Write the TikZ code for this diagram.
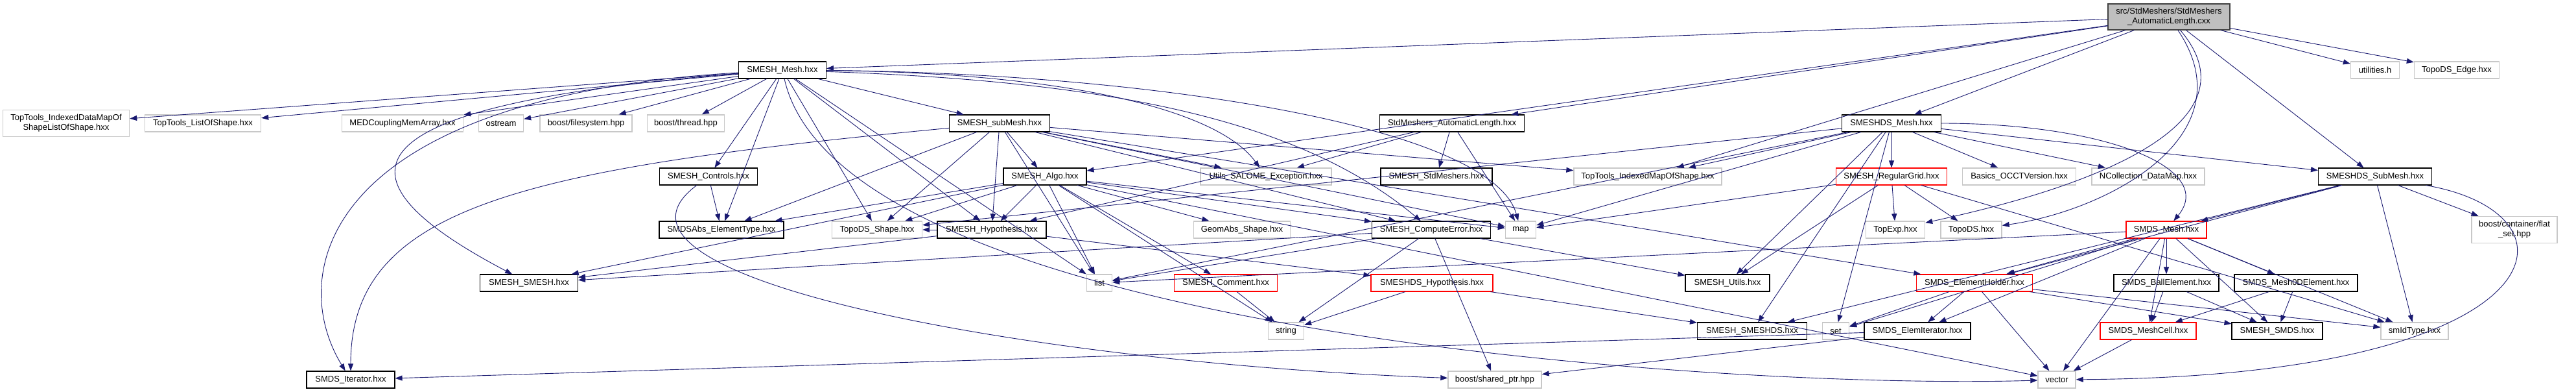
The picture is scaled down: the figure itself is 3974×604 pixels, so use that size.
\documentclass[tikz,border=0pt]{standalone}
\usepackage{fontspec}
\setmainfont{Liberation Sans}
\usetikzlibrary{arrows.meta}
\definecolor{edgeblue}{HTML}{191970}
\definecolor{extgray}{HTML}{C8C8C8}
\definecolor{rootgray}{HTML}{BFBFBF}
\tikzset{
  file/.style={draw=black,line width=1.1pt,minimum height=26,inner sep=0pt,align=center,font=\fontsize{13}{15}\selectfont},
  ext/.style={file,draw=extgray,line width=1.4pt},
  trunc/.style={file,draw=red},
  dep/.style={color=edgeblue,line width=0.9pt,-{Triangle[length=11pt,width=8pt]}}
}
\begin{document}
\begin{tikzpicture}[x=1pt,y=-1pt]
\useasboundingbox (0,0) rectangle (3974,604);
\node [file,fill=rootgray,draw=black!75,minimum width=188,minimum height=40] (root) at (3346,26) {src/StdMeshers/StdMeshers\\\_AutomaticLength.cxx}; %the file itself
% row 1
\node [file,minimum width=135] (mesh) at (1207,108) {SMESH\_Mesh.hxx};
\node [ext,minimum width=75] (util) at (3664,108) {utilities.h};
\node [ext,minimum width=131] (tedge) at (3790,108) {TopoDS\_Edge.hxx};
% row 2
\node [ext,minimum width=195,minimum height=41] (idm) at (102,190) {TopTools\_IndexedDataMapOf\\ShapeListOfShape.hxx};
\node [ext,minimum width=179] (los) at (313,190) {TopTools\_ListOfShape.hxx};
\node [ext,minimum width=187] (med) at (621,190) {MEDCouplingMemArray.hxx};
\node [ext,minimum width=69] (ostr) at (773,190) {ostream};
\node [ext,minimum width=142] (bfs) at (904,190) {boost/filesystem.hpp};
\node [ext,minimum width=119] (bthr) at (1058,190) {boost/thread.hpp};
\node [file,minimum width=155] (sub) at (1542,190) {SMESH\_subMesh.hxx};
\node [file,minimum width=223] (stdal) at (2240,190) {StdMeshers\_AutomaticLength.hxx};
\node [file,minimum width=153] (dsmesh) at (2918,190) {SMESHDS\_Mesh.hxx};
% row 3
\node [file,minimum width=151] (ctrl) at (1093,272) {SMESH\_Controls.hxx};
\node [file,minimum width=128] (algo) at (1612,272) {SMESH\_Algo.hxx};
\node [ext,minimum width=202] (utils) at (1953,272) {Utils\_SALOME\_Exception.hxx};
\node [file,minimum width=172] (stdm) at (2216,272) {SMESH\_StdMeshers.hxx};
\node [ext,minimum width=228] (timap) at (2542,272) {TopTools\_IndexedMapOfShape.hxx};
\node [trunc,minimum width=171] (grid) at (2918,272) {SMESH\_RegularGrid.hxx};
\node [ext,minimum width=175] (occt) at (3115,272) {Basics\_OCCTVersion.hxx};
\node [ext,minimum width=174] (ncoll) at (3314,272) {NCollection\_DataMap.hxx};
\node [file,minimum width=175] (dssub) at (3664,272) {SMESHDS\_SubMesh.hxx};
% row 4
\node [file,minimum width=192] (sabs) at (1113,354) {SMDSAbs\_ElementType.hxx};
\node [ext,minimum width=139] (tshape) at (1353,354) {TopoDS\_Shape.hxx};
\node [file,minimum width=168] (hyp) at (1530,354) {SMESH\_Hypothesis.hxx};
\node [ext,minimum width=149] (geom) at (1916,354) {GeomAbs\_Shape.hxx};
\node [file,minimum width=183] (cerr) at (2208,354) {SMESH\_ComputeError.hxx};
\node [ext,minimum width=47] (map) at (2346,354) {map};
\node [ext,minimum width=91] (texp) at (2924,354) {TopExp.hxx};
\node [ext,minimum width=94] (tds) at (3041,354) {TopoDS.hxx};
\node [trunc,minimum width=124] (smesh) at (3342,354) {SMDS\_Mesh.hxx};
\node [ext,minimum width=132,minimum height=41] (flat) at (3879,354) {boost/container/flat\\\_set.hpp};
% row 5
\node [file,minimum width=151] (ssmesh) at (816,436) {SMESH\_SMESH.hxx};
\node [ext,minimum width=39] (list) at (1696,436) {list};
\node [trunc,minimum width=159] (comm) at (1891,436) {SMESH\_Comment.hxx};
\node [trunc,minimum width=188] (dshyp) at (2209,436) {SMESHDS\_Hypothesis.hxx};
\node [file,minimum width=130] (sutil) at (2665,436) {SMESH\_Utils.hxx};
\node [trunc,minimum width=179] (holder) at (3046,436) {SMDS\_ElementHolder.hxx};
\node [file,minimum width=162] (ball) at (3342,436) {SMDS\_BallElement.hxx};
\node [file,minimum width=190] (m0d) at (3542,436) {SMDS\_Mesh0DElement.hxx};
% row 6
\node [ext,minimum width=55] (str) at (1984,510) {string};
\node [file,minimum width=169] (ssds) at (2703,510) {SMESH\_SMESHDS.hxx};
\node [ext,minimum width=41] (set) at (2832,510) {set};
\node [file,minimum width=164] (eiter) at (2958,510) {SMDS\_ElemIterator.hxx};
\node [trunc,minimum width=148] (cell) at (3314,510) {SMDS\_MeshCell.hxx};
\node [file,minimum width=140] (ssmds) at (3513,510) {SMESH\_SMDS.hxx};
\node [ext,minimum width=104] (smid) at (3725,510) {smIdType.hxx};
% row 7
\node [file,minimum width=136] (iter) at (541,585) {SMDS\_Iterator.hxx};
\node [ext,minimum width=144] (shptr) at (2306,585) {boost/shared\_ptr.hpp};
\node [ext,minimum width=58] (vec) at (3173,585) {vector};

% includes
\draw [dep] (root) edge (stdal) edge (mesh) edge (algo) edge (dsmesh) edge (timap) edge (dssub) edge (util) edge (tedge);
\draw [dep] (root) .. controls (3470,210) and (3250,325) .. (tds);
\draw [dep] (root) .. controls (3520,230) and (3050,325) .. (texp);
\draw [dep] (mesh) edge (idm) edge (los) edge (med) edge (ostr) edge (bfs) edge (bthr) edge (sub) edge (ctrl) edge (sabs) edge (tshape) edge (hyp) edge (list);
\draw [dep] (mesh) .. controls (1650,112) and (1880,170) .. (utils);
\draw [dep] (mesh) .. controls (1750,112) and (2300,190) .. (map);
\draw [dep] (mesh) .. controls (1700,125) and (2000,180) .. (cerr);
\draw [dep] (mesh) .. controls (500,150) and (440,420) .. (iter);
\draw [dep] (mesh) .. controls (560,160) and (480,260) .. (ssmesh);
\draw [dep] (mesh) .. controls (1300,520) and (2700,600) .. (vec);
\draw [dep] (sub) edge (algo) edge (utils) edge (timap) edge (tshape) edge (hyp) edge (cerr) edge (sabs) edge (map) edge (list) edge (holder);
\draw [dep] (sub) .. controls (800,260) and (541,320) .. (iter);
\draw [dep] (ctrl) edge (sabs);
\draw [dep] (ctrl) .. controls (880,430) and (1600,560) .. (shptr);
\draw [dep] (algo) edge (tshape) edge (hyp) edge (geom) edge (cerr) edge (map) edge (list) edge (comm) edge (str) edge (ssmesh) edge (sabs) edge (vec);
\draw [dep] (stdal) edge (stdm) edge (hyp) edge (utils) edge (map);
\draw [dep] (hyp) edge (dshyp) edge (ssmesh) edge (tshape);
\draw [dep] (cerr) edge (str) edge (shptr) edge (list) edge (sutil) edge (ssmesh);
\draw [dep] (dshyp) edge (str) edge (ssds);
\draw [dep] (comm) edge (str);
\draw [dep] (dsmesh) edge (grid) edge (occt) edge (ncoll) edge (dssub) edge (timap) edge (tshape) edge (map) edge (list) edge (set) edge (ssds) edge (sutil);
\draw [dep] (dsmesh) .. controls (3250,190) and (3420,260) .. (smesh);
\draw [dep] (grid) edge (texp) edge (tds) edge (map) edge (sutil) edge (smid);
\draw [dep] (dssub) edge (ssds) edge (holder) edge (smesh) edge (flat) edge (smid);
\draw [dep] (dssub) .. controls (4000,330) and (3950,580) .. (vec);
\draw [dep] (smesh) edge (ball) edge (m0d) edge (cell) edge (ssmds) edge (smid) edge (holder) edge (set) edge (list) edge (vec) edge (eiter);
\draw [dep] (holder) edge (set) edge (eiter) edge (vec) edge (ssmds) edge (smid);
\draw [dep] (ball) edge (cell) edge (ssmds);
\draw [dep] (m0d) edge (cell) edge (ssmds);
\draw [dep] (cell) edge (vec);
\draw [dep] (eiter) edge (iter) edge (shptr);
\end{tikzpicture}
\end{document}
